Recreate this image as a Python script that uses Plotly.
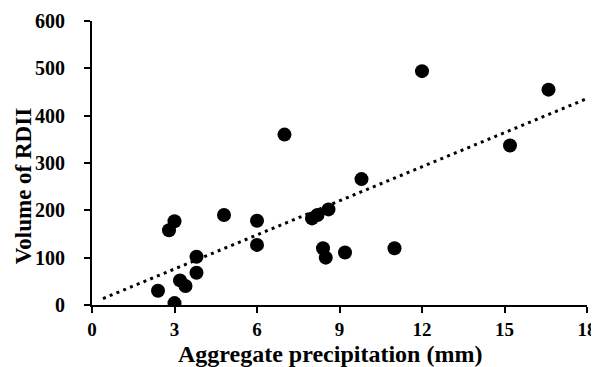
import plotly.graph_objects as go

# Data
precip_mm = [2.4, 3.0, 2.8, 3.0, 3.2, 3.4, 3.8, 3.8, 4.8, 6.0, 6.0, 7.0,
             8.0, 8.2, 8.6, 8.4, 8.5, 9.2, 9.8, 11.0, 12.0, 15.2, 16.6]
rdii_volume = [30, 4, 158, 177, 52, 40, 102, 68, 190, 178, 127, 360,
               183, 190, 202, 120, 100, 111, 266, 120, 494, 337, 455]

# Linear trendline
trend_slope = 24.0
trend_intercept = 4.1
trend_x = [0.4, 18.0]
trend_y = [trend_slope * x + trend_intercept for x in trend_x]

x_ticks = [0, 3, 6, 9, 12, 15, 18]
y_ticks = [0, 100, 200, 300, 400, 500, 600]

x_title = "Aggregate precipitation (mm)"
y_title = "Volume of RDII"

FONT = "Liberation Serif"

fig = go.Figure()
fig.add_trace(go.Scatter(
    x=trend_x, y=trend_y, mode="lines",
    line=dict(color="black", width=3, dash="3px,4.3px"),
    hoverinfo="skip", showlegend=False,
))
fig.add_trace(go.Scatter(
    x=precip_mm, y=rdii_volume, mode="markers",
    marker=dict(color="black", size=14, line=dict(width=0)),
    showlegend=False,
))

# page body has an 8px margin, so the figure is sized to fit inside the window
fig.update_layout(
    width=591, height=359,
    margin=dict(l=84, r=12, t=13, b=62, autoexpand=False),
    paper_bgcolor="white", plot_bgcolor="white",
    font=dict(family=FONT, color="black"),
    xaxis=dict(
        range=[0, 18], tickvals=x_ticks,
        ticktext=[f"<b>{v}</b>" for v in x_ticks],
        showline=True, linecolor="black", linewidth=2,
        ticks="outside", ticklen=6, tickwidth=2, tickcolor="black",
        showgrid=False, zeroline=False, automargin=False,
        tickfont=dict(family=FONT, size=19, color="black"),
        ticklabelstandoff=0,
    ),
    yaxis=dict(
        range=[0, 600], tickvals=y_ticks,
        ticktext=[f"<b>{v}</b>" for v in y_ticks],
        showline=True, linecolor="black", linewidth=2,
        ticks="outside", ticklen=6, tickwidth=2, tickcolor="black",
        showgrid=False, zeroline=False, automargin=False,
        tickfont=dict(family=FONT, size=20, color="black"),
        ticklabelstandoff=15,
    ),
    annotations=[
        dict(text=f"<b>{x_title}</b>", xref="paper", yref="paper",
             x=0.481, y=-0.174, xanchor="center", yanchor="middle",
             showarrow=False, font=dict(family=FONT, size=24, color="black")),
        dict(text=f"<b>{y_title}</b>", xref="paper", yref="paper",
             x=-0.139, y=0.419, xanchor="center", yanchor="middle",
             textangle=-90, showarrow=False,
             font=dict(family=FONT, size=23, color="black")),
    ],
)

fig.write_html("out.html")
